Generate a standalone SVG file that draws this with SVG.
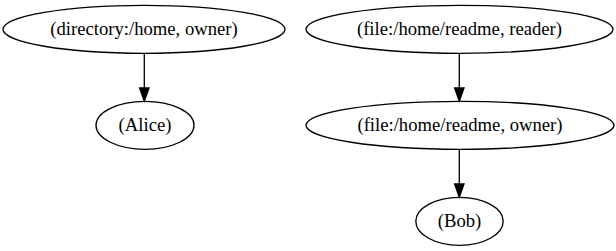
<svg xmlns="http://www.w3.org/2000/svg" width="616" height="251" viewBox="0 0 616 251">
<style>
ellipse{fill:none;stroke:#000;stroke-width:1.33}
text{font-family:"Liberation Serif","Times New Roman",serif;font-size:18.67px;text-anchor:middle;fill:#000}
.e{stroke:#000;stroke-width:1.33;fill:none}
.h{fill:#000;stroke:#000;stroke-width:1.33}
</style>
<rect width="616" height="251" fill="#fff"/>
<g id="n1"><ellipse cx="144" cy="29.3" rx="141" ry="24"/><text x="144" y="35">(directory:/home, owner)</text></g>
<g id="n2"><ellipse cx="145" cy="125.3" rx="49" ry="24"/><text x="145" y="131">(Alice)</text></g>
<g id="n3"><ellipse cx="459.5" cy="29.3" rx="153.5" ry="24"/><text x="459.5" y="35">(file:/home/readme, reader)</text></g>
<g id="n4"><ellipse cx="460" cy="125.3" rx="154" ry="24"/><text x="460" y="131">(file:/home/readme, owner)</text></g>
<g id="n5"><ellipse cx="459.5" cy="221.3" rx="43.7" ry="24"/><text x="459.5" y="227">(Bob)</text></g>
<g id="edges">
<path class="e" d="M144.3,53.3 V88"/><polygon class="h" points="139.6,88 149,88 144.3,101.3"/>
<path class="e" d="M459.3,53.3 V88"/><polygon class="h" points="454.6,88 464,88 459.3,101.3"/>
<path class="e" d="M459.3,149.3 V184"/><polygon class="h" points="454.6,184 464,184 459.3,197.3"/>
</g>
</svg>
